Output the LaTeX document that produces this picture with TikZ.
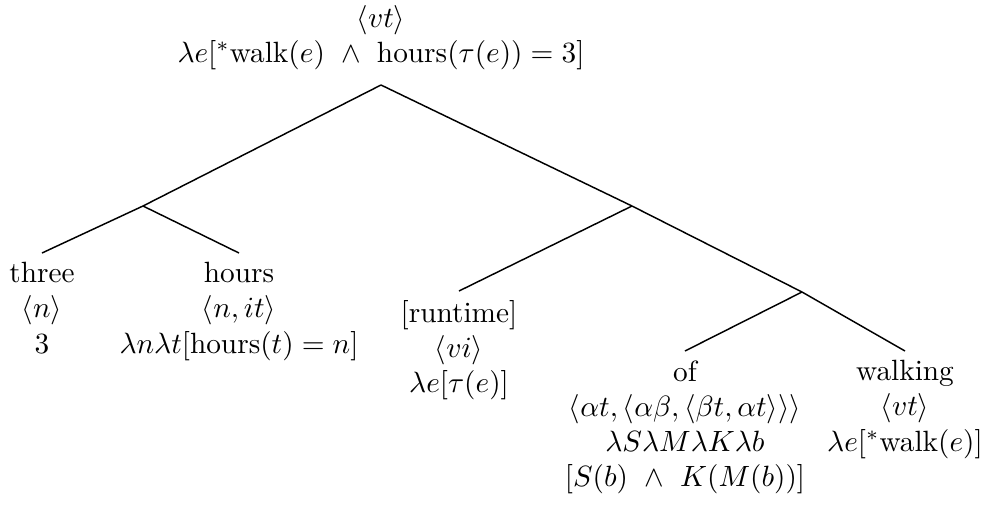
\documentclass[tikz,border=0pt]{standalone}
\usepackage{amsmath}
\usetikzlibrary{positioning}
\tikzset{
  lbl/.style={align=center, inner sep=3pt, font=\normalsize},
  branch/.style={draw=black, line width=0.5pt},
}
\newcommand{\tp}[1]{$\langle #1\rangle$}
\begin{document}
\begin{tikzpicture}[x=0.012cm,y=-0.012cm]
  \useasboundingbox (0,0) rectangle (1007,506);
  % root
  \node[lbl,anchor=south,inner ysep=5pt] (root) at (381,85)
    {\tp{vt}\\ $\lambda e[^*\text{walk}(e)\ \wedge\ \text{hours}(\tau(e))=3]$};
  % branching points
  \coordinate (lj) at (143,206);
  \coordinate (rj) at (632,206);
  \coordinate (rrj) at (802,292);
  % leaves
  \node[lbl,anchor=north] (three) at (42,253) {three\\ \tp{n}\\ $3$};
  \node[lbl,anchor=north] (hours) at (239,253)
    {hours\\ \tp{n,it}\\ $\lambda n\lambda t[\text{hours}(t)=n]$};
  \node[lbl,anchor=north] (runtime) at (459,291)
    {[runtime]\\ \tp{vi}\\ $\lambda e[\tau(e)]$};
  \node[lbl,anchor=north] (of) at (685,351)
    {of\\ \tp{\alpha t,\langle\alpha\beta,\langle\beta t,\alpha t\rangle\rangle}\\
     $\lambda S\lambda M\lambda K\lambda b$\\ $[S(b)\ \wedge\ K(M(b))]$};
  \node[lbl,anchor=north] (walking) at (905,351)
    {walking\\ \tp{vt}\\ $\lambda e[^*\text{walk}(e)]$};
  % branches
  \foreach \a/\b in {root.south/lj, root.south/rj, lj/three.north, lj/hours.north,
                     rj/runtime.north, rj/rrj, rrj/of.north, rrj/walking.north}
    \draw[branch] (\a) -- (\b);
\end{tikzpicture}
\end{document}
